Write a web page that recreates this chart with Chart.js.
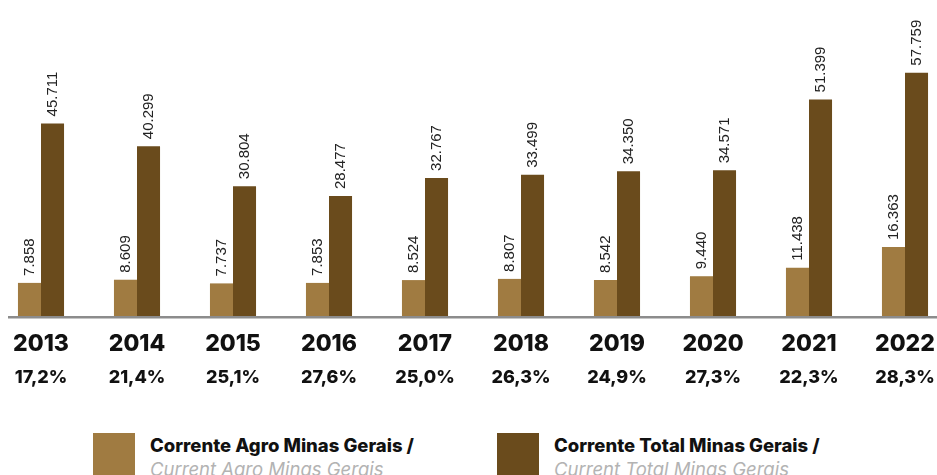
<!DOCTYPE html>
<html>
<head>
<meta charset="utf-8">
<script src="https://cdn.jsdelivr.net/npm/chart.js@4.4.1/dist/chart.umd.min.js"></script>
<style>
  html, body { margin: 0; padding: 0; background: #fff; }
  #wrap { position: relative; width: 937px; height: 475px; overflow: hidden; }
  #chartBox { position: absolute; left: 0; top: 0; width: 937px; height: 405px; }
  .legend-item { position: absolute; top: 433px; display: flex; align-items: flex-start; }
  .swatch { width: 42px; height: 42px; margin-right: 15px; flex: none; }
  .lg-pt { font: 800 18.5px Inter, sans-serif; color: #111; line-height: 24px; }
  .lg-en { font: italic 400 18.5px Inter, sans-serif; color: #b3b3b3; line-height: 24px; }
</style>
</head>
<body>
<div id="wrap">
  <div id="chartBox"><canvas id="barChart"></canvas></div>
  <div id="legend"></div>
</div>
<script>
// Categories and values (R$ milhões)
const years = ['2013', '2014', '2015', '2016', '2017', '2018', '2019', '2020', '2021', '2022'];
const sharePct = ['17,2%', '21,4%', '25,1%', '27,6%', '25,0%', '26,3%', '24,9%', '27,3%', '22,3%', '28,3%'];
const agroValues = [7858, 8609, 7737, 7853, 8524, 8807, 8542, 9440, 11438, 16363];
const totalValues = [45711, 40299, 30804, 28477, 32767, 33499, 34350, 34571, 51399, 57759];
const namesPt = ['Corrente Agro Minas Gerais /', 'Corrente Total Minas Gerais /'];
const namesEn = ['Current Agro Minas Gerais', 'Current Total Minas Gerais'];
const colors = ['#A07B41', '#6A4B1C'];
const legendLeft = [93, 497];

// 45711 -> "45.711"
function fmt(v) {
    return String(v).replace(/\B(?=(\d{3})+(?!\d))/g, '.');
}

// rotated value labels above each bar
const valueLabels = {
    id: 'valueLabels',
    afterDatasetsDraw(chart) {
        const ctx = chart.ctx;
        ctx.save();
        ctx.font = '15px "Liberation Sans", Arial, sans-serif';
        ctx.fillStyle = '#222';
        ctx.textAlign = 'left';
        ctx.textBaseline = 'middle';
        chart.data.datasets.forEach((ds, di) => {
            chart.getDatasetMeta(di).data.forEach((bar, i) => {
                ctx.save();
                ctx.translate(bar.x, bar.y - 7);
                ctx.rotate(-Math.PI / 2);
                ctx.fillText(fmt(ds.data[i]), 0, 0);
                ctx.restore();
            });
        });
        ctx.restore();
    }
};

// grey base line across the whole width
const baseLine = {
    id: 'baseLine',
    afterDatasetsDraw(chart) {
        const ctx = chart.ctx;
        const y = chart.scales.y.getPixelForValue(0) + 1.2;
        ctx.save();
        ctx.strokeStyle = '#8c8c8c';
        ctx.lineWidth = 2.5;
        ctx.beginPath();
        ctx.moveTo(8, y);
        ctx.lineTo(chart.width, y);
        ctx.stroke();
        ctx.restore();
    }
};

// fixed axis band heights, labels may hang over the sides
function fixedBand(h) {
    return function (scale) {
        scale.paddingLeft = 0;
        scale.paddingRight = 0;
        scale.height = h;
    };
}

function createBarChart() {
    const ctx = document.getElementById('barChart').getContext('2d');
    new Chart(ctx, {
        type: 'bar',
        data: {
            labels: years,
            datasets: [{
                label: namesPt[0],
                data: agroValues,
                backgroundColor: colors[0],
                clip: false
            }, {
                label: namesPt[1],
                data: totalValues,
                backgroundColor: colors[1],
                clip: false
            }]
        },
        options: {
            responsive: true,
            maintainAspectRatio: false,
            animation: false,
            categoryPercentage: 0.48,
            barPercentage: 1,
            layout: { padding: { left: 41, right: 32, top: 0, bottom: 12 } },
            plugins: {
                legend: { display: false },
                tooltip: { enabled: false }
            },
            scales: {
                x: {
                    offset: false,
                    grid: { display: false, drawTicks: false },
                    border: { display: false },
                    afterFit: fixedBand(44),
                    ticks: {
                        color: '#111',
                        font: { family: 'Inter', size: 23, weight: 800 },
                        padding: 14,
                        maxRotation: 0,
                        autoSkip: false
                    }
                },
                x2: {
                    type: 'category',
                    labels: sharePct,
                    position: 'bottom',
                    offset: false,
                    grid: { display: false, drawTicks: false },
                    border: { display: false },
                    afterFit: fixedBand(33),
                    ticks: {
                        color: '#111',
                        font: { family: 'Inter', size: 18, weight: 800 },
                        padding: 7,
                        maxRotation: 0,
                        autoSkip: false
                    }
                },
                y: {
                    display: false,
                    min: 0,
                    max: 75000
                }
            }
        },
        plugins: [valueLabels, baseLine]
    });
}

function buildLegend() {
    const box = document.getElementById('legend');
    namesPt.forEach((name, i) => {
        const item = document.createElement('div');
        item.className = 'legend-item';
        item.style.left = legendLeft[i] + 'px';
        item.innerHTML = `
            <div class="swatch" style="background:${colors[i]}"></div>
            <div>
                <div class="lg-pt">${name}</div>
                <div class="lg-en">${namesEn[i]}</div>
            </div>
        `;
        box.appendChild(item);
    });
}

window.onload = function () {
    createBarChart();
    buildLegend();
};
</script>
</body>
</html>
